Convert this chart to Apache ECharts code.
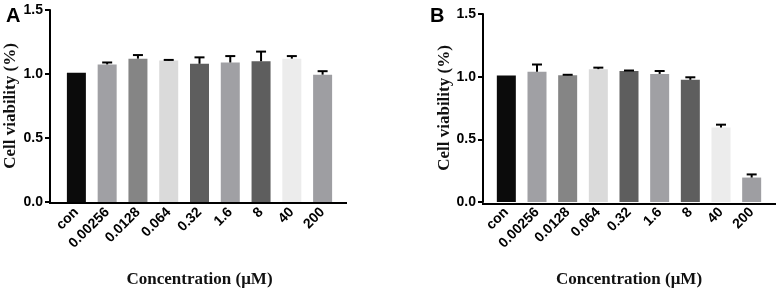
<!DOCTYPE html>
<html>
<head>
<meta charset="utf-8">
<script src="https://cdn.jsdelivr.net/npm/echarts@6/dist/echarts.min.js"></script>
<style>
html,body{margin:0;padding:0;background:#fff;}
#chart{width:782px;height:293px;}
</style>
</head>
<body>
<div id="chart"></div>
<script>
// 浓度分组
var categories = ['con', '0.00256', '0.0128', '0.064', '0.32', '1.6', '8', '40', '200'];
// A 图 均值 / 误差
var meanA = [1.01, 1.075, 1.12, 1.105, 1.08, 1.09, 1.10, 1.12, 0.995];
var errA = [0, 0.015, 0.028, 0.005, 0.05, 0.05, 0.075, 0.02, 0.027];
// B 图 均值 / 误差
var meanB = [1.01, 1.04, 1.012, 1.06, 1.045, 1.022, 0.975, 0.595, 0.195];
var errB = [0, 0.057, 0.003, 0.012, 0.004, 0.023, 0.02, 0.022, 0.025];
// 纵轴刻度
var yTicks = [0, 0.5, 1.0, 1.5];
var barColors = ['#0b0b0b', '#a0a0a4', '#858585', '#dadada', '#5e5e5e', '#a0a0a4', '#5e5e5e', '#ececec', '#9e9ea2'];

var sans = 'Liberation Sans, Arial, sans-serif';
var serif = 'Liberation Serif, Times New Roman, serif';

var chart = echarts.init(document.getElementById('chart'));

function xAxisOpt(gi){
	return {
		type: 'category', gridIndex: gi, data: categories,
		axisLine: {show: false},
		axisTick: {alignWithLabel: true, length: 5, lineStyle: {color: '#000', width: 2}},
		axisLabel: {rotate: 45, margin: 8, fontSize: 14, fontWeight: 'bold', color: '#000', fontFamily: sans},
		name: 'Concentration (μM)', nameLocation: 'middle', nameGap: 69,
		nameTextStyle: {fontSize: 17, fontWeight: 'bold', color: '#111', fontFamily: serif}
	};
}
function yAxisOpt(gi, offset, gap){
	return {
		type: 'value', gridIndex: gi, min: yTicks[0], max: yTicks[yTicks.length - 1], interval: 0.5, offset: offset,
		splitLine: {show: false},
		axisLine: {show: true, lineStyle: {color: '#000', width: 2}},
		axisTick: {show: true, length: 5, lineStyle: {color: '#000', width: 2}},
		axisLabel: {margin: 7, fontSize: 14, fontWeight: 'bold', color: '#000', fontFamily: sans,
			formatter: function(v){ return v.toFixed(1); }},
		name: 'Cell viability (%)', nameLocation: 'middle', nameGap: gap,
		nameTextStyle: {fontSize: 17, fontWeight: 'bold', color: '#111', fontFamily: serif}
	};
}
function barSeries(gi, data){
	return {
		type: 'bar', xAxisIndex: gi, yAxisIndex: gi, barWidth: 19,
		data: data.map(function(v, i){ return {value: v, itemStyle: {color: barColors[i]}}; }),
		z: 2
	};
}
function errSeries(gi, mean, err){
	return {
		type: 'custom', xAxisIndex: gi, yAxisIndex: gi, z: 3,
		data: mean.map(function(v, i){ return [i, v, v + err[i]]; }),
		renderItem: function(params, api){
			var lo = api.coord([api.value(0), api.value(1)]);
			var hi = api.coord([api.value(0), api.value(2)]);
			if (api.value(2) - api.value(1) <= 0) return;
			var style = {stroke: '#000', lineWidth: 2};
			return {type: 'group', children: [
				{type: 'line', shape: {x1: lo[0], y1: lo[1], x2: hi[0], y2: hi[1]}, style: style},
				{type: 'line', shape: {x1: hi[0] - 5, y1: hi[1], x2: hi[0] + 5, y2: hi[1]}, style: style}
			]};
		}
	};
}

var option = {
	backgroundColor: '#fff',
	animation: false,
	title: [
		{text: 'A', left: 1, top: 1, textStyle: {fontSize: 20, fontWeight: 'bold', color: '#000', fontFamily: sans}},
		{text: 'B', left: 425, top: 1, textStyle: {fontSize: 20, fontWeight: 'bold', color: '#000', fontFamily: sans}}
	],
	grid: [
		{left: 61, top: 10, width: 277, height: 193},
		{left: 491, top: 14, width: 276, height: 190}
	],
	xAxis: [xAxisOpt(0), xAxisOpt(1)],
	yAxis: [yAxisOpt(0, 11, 31), yAxisOpt(1, 8, 30)],
	series: [
		barSeries(0, meanA), errSeries(0, meanA, errA),
		barSeries(1, meanB), errSeries(1, meanB, errB)
	],
	// 横轴线（延伸到纵轴）
	graphic: [
		{type: 'line', shape: {x1: 49, y1: 203, x2: 347, y2: 203}, style: {stroke: '#000', lineWidth: 2}, z: 10},
		{type: 'line', shape: {x1: 482, y1: 204, x2: 776, y2: 204}, style: {stroke: '#000', lineWidth: 2}, z: 10}
	]
};
chart.setOption(option);
</script>
</body>
</html>
